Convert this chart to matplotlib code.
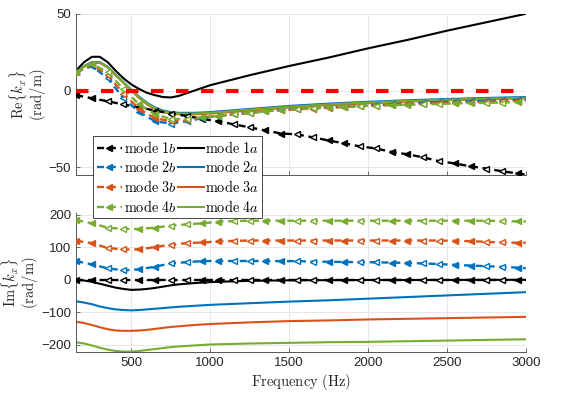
import numpy as np
import matplotlib
matplotlib.use("Agg")
import matplotlib.pyplot as plt

plt.rcParams['font.family'] = ['Liberation Sans', 'DejaVu Sans']
plt.rcParams['mathtext.fontset'] = 'cm'

# frequency grids (Hz)
f_b = [150, 250, 350, 450, 550, 650, 750, 850, 950, 1050, 1150, 1250, 1350, 1450, 1550,
       1650, 1750, 1850, 1950, 2050, 2150, 2250, 2350, 2450, 2550, 2650, 2750, 2850, 2950, 3000]
f_a = [150, 200, 250, 300, 350, 400, 450, 500, 550, 600, 650, 700, 750, 800, 900, 1000,
       1250, 1500, 1750, 2000, 2250, 2500, 2750, 3000]

# Re{kx} of the b modes
re_1b = [-3, -5, -7, -9, -11, -13, -15, -16.5, -18.5, -20, -22, -24, -26, -28, -28.5,
         -30.5, -32.5, -34.4, -36.4, -37.7, -40, -41.5, -43.5, -46, -47.5, -49.4, -50.8, -52.6, -54, -54.8]
re_2b = [12, 16, 8, -5, -14, -20, -21.5, -20, -18, -16.5, -15.5, -14.5, -13.5, -12.5, -12,
         -11.5, -11, -10.5, -10, -9.5, -9, -8.5, -8, -7.5, -7.2, -7, -6.6, -6.3, -6, -5.8]
re_3b = [12, 17, 10, -2, -12, -18, -20, -19.5, -17.5, -16.5, -15.5, -14.5, -13.5, -12.8, -12.2,
         -11.7, -11.2, -10.7, -10.2, -9.8, -9.4, -9, -8.6, -8.2, -7.9, -7.6, -7.3, -7, -6.8, -6.7]
re_4b = [12, 17.5, 12, 1, -9, -15.5, -18.5, -18.5, -17.5, -16.5, -15.5, -14.5, -13.5, -12.5, -12,
         -11.5, -11, -10.5, -10, -9.8, -9.5, -9.2, -9, -8.7, -8.4, -8.2, -8, -7.8, -7.5, -7.4]

# Re{kx} of the a modes
re_1a = [13, 18.5, 22, 22, 18.5, 13, 8, 4, 1, -1.5, -3, -4.2, -4.5, -3.5, 0, 3.5,
         10, 16, 21.5, 27.5, 33, 39, 44.5, 50]
re_2a = [12, 16, 18.5, 18.5, 15.5, 10.5, 5.5, 0.5, -4, -8, -11, -13, -14, -14.5, -14.5, -14,
         -12, -10, -8.5, -7.3, -6.3, -5.5, -4.8, -4.2]
re_3a = [11.5, 15.5, 18, 18, 15, 10, 5, 0, -5, -9, -12, -14, -15, -15.5, -15.5, -15,
         -13, -11, -9.5, -8.3, -7.2, -6.3, -5.6, -5]
re_4a = [11.8, 15.8, 18.2, 18.2, 15.2, 10.2, 5.2, 0.2, -4.5, -8.5, -11.5, -13.5, -14.5, -15, -15, -14.5,
         -12.5, -10.5, -9, -7.8, -6.8, -6, -5.3, -4.7]

# Im{kx} of the b modes
im_1b = [0] * 30
im_2b = [57.6, 47.5, 35.4, 29.3, 32.3, 40.4, 50.5, 54.5, 57.6, 58, 58, 58, 58, 57.6, 57.6,
         56, 55.6, 55, 54.5, 54, 53, 52, 50.5, 48.5, 46, 44, 42, 40, 37.4, 36]
im_3b = [120, 113, 98, 93.6, 93.6, 101, 108, 113, 115, 118, 120, 121, 121, 121, 121,
         121, 121, 121, 121, 121, 121, 121, 121, 121, 120, 119, 117, 115, 114, 114]
im_4b = [184, 174, 160.6, 156.6, 156.6, 160.6, 166.7, 170.7, 174, 178.8, 181, 182, 182, 182, 182,
         182, 182, 182, 182, 182, 182, 182, 182, 182, 182, 182, 182, 181, 180, 180]

# Im{kx} of the a modes
im_1a = [0, -2, -6, -12, -18, -24, -28, -31, -30, -28, -25, -21, -17, -14, -10, -7,
         -3, -1.5, -1, -0.5, -0.5, -0.3, 0, 0]
im_2a = [-66, -70, -75, -82, -87, -91, -93, -94, -93, -91, -89, -87, -85, -83, -80, -77,
         -72, -67, -63, -58, -53, -48, -43, -38]
im_3a = [-129, -133, -139, -146, -152, -156, -157, -157, -156, -154, -151, -148, -145, -143, -139, -136,
         -131, -127, -125, -122, -120, -118, -116, -114]
im_4a = [-192, -196, -202, -209, -215, -219, -221, -221, -219, -216, -213, -210, -207, -205, -202, -199,
         -196, -194, -192, -191, -189, -187, -185, -183]

# reference line Re{kx} = 0
ref_f = [150, 2950]
ref_v = [0, 0]

colors = ['black', '#0072BD', '#D95319', '#77AC30']
names = ['1', '2', '3', '4']

filled = [i for i in range(29) if i % 4 in (0, 1)]
opened = [i for i in range(29) if i % 4 in (2, 3)]

fig = plt.figure(figsize=(5.81, 3.95), dpi=100)
ax1 = fig.add_axes([0.131, 0.557, 0.774, 0.408])
ax2 = fig.add_axes([0.131, 0.109, 0.774, 0.352])


def draw_panel(ax, b_list, a_list):
    hb, ha = [], []
    for c, yb, ya in zip(colors, b_list, a_list):
        lb, = ax.plot(f_b, yb, ls=(0, (3, 2)), color=c, lw=1.7, marker='<',
                      ms=5, markevery=filled, mfc=c, mec=c, zorder=3)
        ax.plot([f_b[i] for i in opened], [yb[i] for i in opened], ls='none',
                marker='<', ms=5, mfc='white', mec=c, mew=1.0, zorder=3)
        la, = ax.plot(f_a, ya, color=c, lw=1.5, zorder=2)
        hb.append(lb)
        ha.append(la)
    return hb, ha


hb, ha = draw_panel(ax1, [re_1b, re_2b, re_3b, re_4b], [re_1a, re_2a, re_3a, re_4a])
ax1.plot(ref_f, ref_v, color='red', lw=3, ls=(0, (3, 3)), zorder=4)
draw_panel(ax2, [im_1b, im_2b, im_3b, im_4b], [im_1a, im_2a, im_3a, im_4a])

for ax in (ax1, ax2):
    ax.set_xlim(150, 3000)
    ax.set_xticks([500, 1000, 1500, 2000, 2500, 3000])
    ax.grid(True, color='#e3e3e3', lw=0.6)
    ax.set_axisbelow(True)
    for s in ('top', 'right'):
        ax.spines[s].set_visible(False)
    for s in ('left', 'bottom'):
        ax.spines[s].set_color('#555555')
        ax.spines[s].set_linewidth(0.7)
    ax.tick_params(direction='in', length=3, width=0.6, color='#555555',
                   labelcolor='#262626', labelsize=9.5)

ax1.set_ylim(-55, 50)
ax1.set_yticks([-50, 0, 50])
ax1.tick_params(labelbottom=False)
ax1.set_ylabel('$\\mathrm{Re}\\{k_x\\}$\n$\\mathrm{(rad/m)}$', fontsize=10.5,
               color='#262626', linespacing=0.95)
ax1.yaxis.set_label_coords(-0.062, 0.5)

ax2.set_ylim(-222, 206)
ax2.set_yticks([-200, -100, 0, 100, 200])
ax2.set_ylabel('$\\mathrm{Im}\\{k_x\\}$\n$\\mathrm{(rad/m)}$', fontsize=10.5,
               color='#262626', linespacing=0.95)
ax2.yaxis.set_label_coords(-0.08, 0.5)
ax2.set_xlabel('$\\mathrm{Frequency\\ (Hz)}$', fontsize=10.5, color='#262626', labelpad=2)

labels = ['$\\mathrm{mode}\\ %s b$' % n for n in names] + ['$\\mathrm{mode}\\ %s a$' % n for n in names]
leg = fig.legend(hb + ha, labels, ncol=2, loc='upper left', bbox_to_anchor=(0.16, 0.655),
                 fontsize=10.3, frameon=True, fancybox=False, framealpha=1,
                 edgecolor='#262626', borderpad=0.25, labelspacing=0.25,
                 handlelength=1.8, handletextpad=0.1, columnspacing=0.1,
                 borderaxespad=0)
leg.get_frame().set_linewidth(0.6)

fig.savefig('out.png', dpi=100)
